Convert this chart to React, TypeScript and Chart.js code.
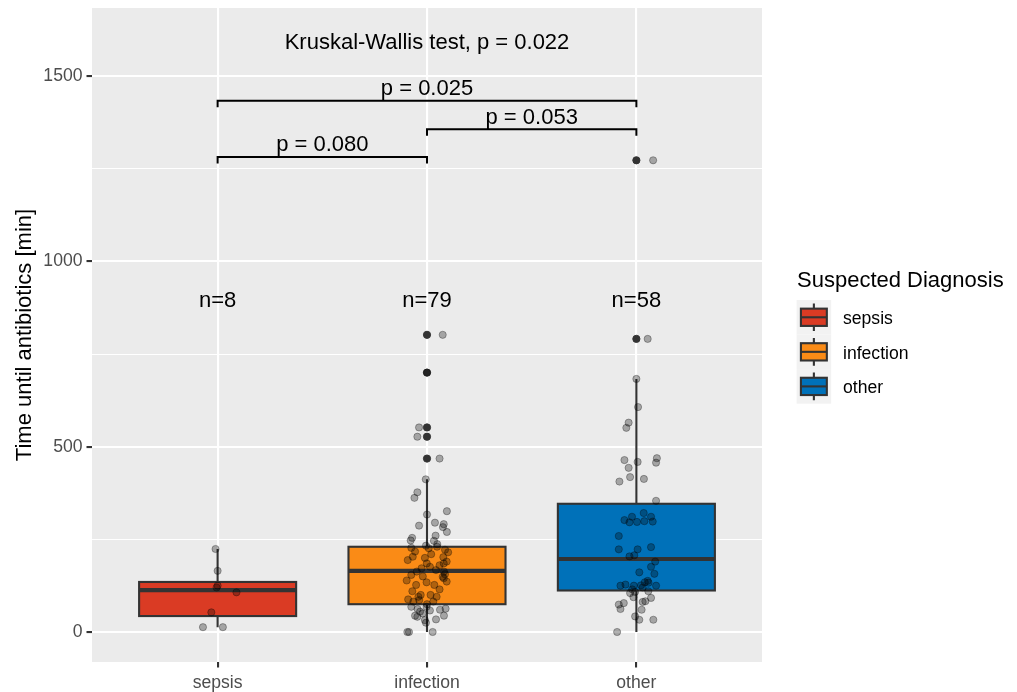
import { useEffect, useRef } from "react";
import { Chart, registerables } from "chart.js";

Chart.register(...registerables);

// ---------------- data ----------------
const categories = ["sepsis", "infection", "other"];
const sampleSizes = [8, 79, 58];
const boxFill = ["#DA3B24", "#FA8B16", "#0071B9"];

// box statistics
const q1 = [43, 75, 112];
const medians = [113, 165, 197];
const q3 = [135, 230, 346];
const whiskerLow = [13, 0, 0];
const whiskerHigh = [224, 412, 683];

// outliers drawn by the boxplot (category index 1..3)
const outlierCategory = [2, 2, 2, 2, 2, 3, 3];
const outlierValues = [802, 700, 552, 527, 468, 1273, 791];

// jittered observations
const sepsisValues = [224, 165, 125, 120, 107, 53, 13, 13];
const sepsisJitter = [-0.01, 0.0, 0.0, -0.005, 0.09, -0.03, -0.07, 0.025];

const infectionValues = [
  802, 700, 552, 527, 468,
  412, 377, 362, 326, 317, 295, 291, 283, 287, 270, 260, 254, 247, 246, 237, 233,
  227, 217, 226, 230, 222, 215, 194, 203, 202, 190, 172, 176, 163, 167, 163, 154, 149, 136, 139, 127, 134, 127,
  95, 100, 100, 95, 88, 82, 86, 82, 185, 185, 145, 156,
  210, 200, 180, 150, 115, 110, 75,
  68, 63, 68, 62, 58, 60, 34, 44, 41, 44, 25, 50, 0, 0, 0, 32, 55,
];
const infectionJitter = [
  0.075, 0.0, -0.038, -0.046, 0.06,
  -0.006, -0.046, -0.06, 0.095, 0.0, 0.038, 0.08, 0.076, -0.038, 0.095, 0.041, -0.071, -0.078, 0.033, 0.049, -0.005,
  -0.075, -0.057, 0.008, 0.048, 0.086, 0.101, -0.092, -0.068, 0.078, 0.094, -0.026, 0.014, -0.049, 0.043, 0.081, -0.075, 0.075, 0.094, -0.097, -0.052, -0.002, 0.035,
  -0.041, -0.03, 0.017, 0.046, -0.09, -0.065, -0.037, 0.03, 0.08, -0.001, 0.08, 0.086,
  0.02, -0.01, 0.06, -0.02, 0.06, -0.07, 0.0,
  -0.002, 0.089, -0.075, -0.045, 0.014, 0.062, 0.043, 0.081, -0.046, -0.057, -0.005, -0.021, -0.086, 0.027, -0.094, -0.01, -0.033,
];

const otherValues = [
  1273, 791, 683, 607, 565, 551, 464, 459, 469, 457, 443, 418, 413, 406, 354,
  321, 311, 302, 296, 297, 299, 311, 298, 259, 223, 223, 229, 204, 207, 190, 176, 161, 157,
  138, 134, 125, 128, 125, 126, 125, 133, 105, 108, 94, 110, 92, 83, 81, 78, 74, 62, 60,
  42, 33, 33, 0, 120, 115,
];
const otherJitter = [
  0.08, 0.054, 0.0, 0.008, -0.037, -0.048, -0.057, 0.006, 0.098, 0.094, -0.037, -0.03, 0.036, -0.081, 0.094,
  0.035, -0.021, -0.057, -0.033, 0.003, 0.038, 0.07, 0.078, -0.084, -0.084, 0.006, 0.07, -0.033, -0.01, 0.09, 0.07, 0.014, 0.086,
  0.054, 0.04, -0.076, -0.052, -0.012, 0.022, 0.094, 0.058, -0.03, -0.006, -0.014, 0.057, 0.07, 0.043, 0.03, -0.06, -0.084, -0.076, 0.025,
  -0.006, 0.014, 0.081, -0.092, 0.03, -0.02,
];

const groupValues = [sepsisValues, infectionValues, otherValues];
const groupJitter = [sepsisJitter, infectionJitter, otherJitter];

// pairwise comparisons
const bracketFrom = [1, 2, 1];
const bracketTo = [2, 3, 3];
const bracketY = [1282, 1357, 1434];
const bracketLabels = ["p = 0.080", "p = 0.053", "p = 0.025"];
const globalTestLabel = "Kruskal-Wallis test, p = 0.022";
const globalTestY = 1591;
const countLabelY = 894;

const yTickValues = [0, 250, 500, 750, 1000, 1250, 1500];
const yMin = -81;
const yMax = 1684;

// ---------------- styles ----------------
const FONT = "'Liberation Sans', Arial, Helvetica, sans-serif";
const LINE = "#333333";
const LW = 2.1;

const ggPlugin = {
  id: "ggbox",
  beforeDraw(chart: any) {
    const { ctx, chartArea } = chart;
    ctx.save();
    ctx.fillStyle = "#EBEBEB";
    ctx.fillRect(chartArea.left, chartArea.top, chartArea.right - chartArea.left, chartArea.bottom - chartArea.top);
    ctx.restore();
  },
  beforeDatasetsDraw(chart: any) {
    const { ctx } = chart;
    const xs = chart.scales.x;
    const ys = chart.scales.y;
    ctx.save();
    categories.forEach((_, i) => {
      const c = i + 1;
      const cx = xs.getPixelForValue(c);
      const left = xs.getPixelForValue(c - 0.375);
      const right = xs.getPixelForValue(c + 0.375);
      const yq1 = ys.getPixelForValue(q1[i]);
      const yq3 = ys.getPixelForValue(q3[i]);
      const ymed = ys.getPixelForValue(medians[i]);
      const ylo = ys.getPixelForValue(whiskerLow[i]);
      const yhi = ys.getPixelForValue(whiskerHigh[i]);
      ctx.strokeStyle = LINE;
      ctx.lineWidth = LW;
      ctx.beginPath();
      ctx.moveTo(cx, yq3);
      ctx.lineTo(cx, yhi);
      ctx.moveTo(cx, yq1);
      ctx.lineTo(cx, ylo);
      ctx.stroke();
      ctx.fillStyle = boxFill[i];
      ctx.fillRect(left, yq3, right - left, yq1 - yq3);
      ctx.strokeRect(left, yq3, right - left, yq1 - yq3);
      ctx.lineWidth = 4.2;
      ctx.beginPath();
      ctx.moveTo(left, ymed);
      ctx.lineTo(right, ymed);
      ctx.stroke();
    });
    ctx.restore();
  },
  afterDatasetsDraw(chart: any) {
    const { ctx } = chart;
    const xs = chart.scales.x;
    const ys = chart.scales.y;
    ctx.save();
    ctx.strokeStyle = "#000000";
    ctx.fillStyle = "#000000";
    ctx.lineWidth = 2;
    ctx.font = `22px ${FONT}`;
    ctx.textAlign = "center";
    bracketY.forEach((v, i) => {
      const x1 = xs.getPixelForValue(bracketFrom[i]);
      const x2 = xs.getPixelForValue(bracketTo[i]);
      const y = ys.getPixelForValue(v);
      ctx.beginPath();
      ctx.moveTo(x1, y + 6.5);
      ctx.lineTo(x1, y);
      ctx.lineTo(x2, y);
      ctx.lineTo(x2, y + 6.5);
      ctx.stroke();
      ctx.textBaseline = "alphabetic";
      ctx.fillText(bracketLabels[i], (x1 + x2) / 2, y - 5.5);
    });
    ctx.textBaseline = "middle";
    ctx.fillText(globalTestLabel, xs.getPixelForValue(2), ys.getPixelForValue(globalTestY));
    sampleSizes.forEach((n, i) => {
      ctx.fillText(`n=${n}`, xs.getPixelForValue(i + 1), ys.getPixelForValue(countLabelY));
    });
    ctx.restore();
  },
  afterDraw(chart: any) {
    const { ctx } = chart;
    const ks = 34.56;
    const kx = 796.6;
    const ky = 300;
    ctx.save();
    ctx.fillStyle = "#000000";
    ctx.font = `22px ${FONT}`;
    ctx.textAlign = "left";
    ctx.textBaseline = "alphabetic";
    ctx.fillText("Suspected Diagnosis", 797, 287);
    categories.forEach((name, i) => {
      const y0 = ky + i * ks;
      ctx.fillStyle = "#F2F2F2";
      ctx.fillRect(kx, y0, ks, ks);
      const cx = kx + ks / 2;
      ctx.strokeStyle = LINE;
      ctx.lineWidth = LW;
      ctx.beginPath();
      ctx.moveTo(cx, y0 + 0.1 * ks);
      ctx.lineTo(cx, y0 + 0.25 * ks);
      ctx.moveTo(cx, y0 + 0.75 * ks);
      ctx.lineTo(cx, y0 + 0.9 * ks);
      ctx.stroke();
      ctx.fillStyle = boxFill[i];
      ctx.fillRect(kx + 0.125 * ks, y0 + 0.25 * ks, 0.75 * ks, 0.5 * ks);
      ctx.strokeRect(kx + 0.125 * ks, y0 + 0.25 * ks, 0.75 * ks, 0.5 * ks);
      ctx.beginPath();
      ctx.moveTo(kx + 0.125 * ks, y0 + 0.5 * ks);
      ctx.lineTo(kx + 0.875 * ks, y0 + 0.5 * ks);
      ctx.stroke();
      ctx.fillStyle = "#000000";
      ctx.font = `17.6px ${FONT}`;
      ctx.textBaseline = "middle";
      ctx.fillText(name, 843, y0 + ks / 2 + 2);
    });
    ctx.restore();
  },
};

export default function App() {
  const ref = useRef<HTMLCanvasElement | null>(null);
  useEffect(() => {
    if (!ref.current) return;
    Chart.defaults.font.family = FONT;
    const datasets: any[] = categories.map((c, i) => ({
      label: c,
      data: groupValues[i].map((v, k) => ({ x: i + 1 + groupJitter[i][k], y: v })),
      backgroundColor: "rgba(0,0,0,0.3)",
      borderColor: "rgba(0,0,0,0.3)",
      borderWidth: 1,
      pointRadius: 3.6,
    }));
    datasets.push({
      label: "outliers",
      data: outlierValues.map((v, k) => ({ x: outlierCategory[k], y: v })),
      backgroundColor: LINE,
      borderColor: LINE,
      borderWidth: 1,
      pointRadius: 3.6,
    });
    const chart = new Chart(ref.current, {
      type: "scatter",
      data: { datasets },
      options: {
        animation: false,
        responsive: true,
        maintainAspectRatio: false,
        layout: { padding: { left: 0, top: 8, right: 255, bottom: 0 } },
        plugins: { legend: { display: false }, tooltip: { enabled: false } },
        scales: {
          x: {
            type: "linear",
            min: 0.4,
            max: 3.6,
            afterBuildTicks: (s: any) => {
              s.ticks = categories.map((_, i) => ({ value: i + 1 }));
            },
            afterFit: (s: any) => {
              s.height = 30;
              s.paddingLeft = 0;
              s.paddingRight = 0;
              s.paddingTop = 0;
              s.paddingBottom = 0;
            },
            ticks: {
              autoSkip: false,
              maxRotation: 0,
              padding: 5,
              color: "#4D4D4D",
              font: { size: 17.6 },
              callback: (v: any) => categories[Math.round(Number(v)) - 1] ?? "",
            },
            grid: { color: "#FFFFFF", lineWidth: LW, tickColor: LINE, tickLength: 5.5, tickWidth: LW },
            border: { display: false },
          },
          y: {
            type: "linear",
            min: yMin,
            max: yMax,
            afterBuildTicks: (s: any) => {
              s.ticks = yTickValues.map((v) => ({ value: v }));
            },
            afterFit: (s: any) => {
              s.width = 92;
              s.paddingLeft = 0;
              s.paddingRight = 0;
              s.paddingTop = 0;
              s.paddingBottom = 0;
            },
            ticks: {
              autoSkip: false,
              padding: 4,
              color: "#4D4D4D",
              font: { size: 17.6 },
              callback: (v: any) => (Number(v) % 500 === 0 ? String(v) : ""),
            },
            grid: {
              color: "#FFFFFF",
              lineWidth: (c: any) => (c.tick && c.tick.value % 500 === 0 ? LW : 1.05),
              tickColor: (c: any) => (c.tick && c.tick.value % 500 === 0 ? LINE : "rgba(0,0,0,0)"),
              tickLength: 5.5,
              tickWidth: LW,
            },
            border: { display: false },
            title: {
              display: true,
              text: "Time until antibiotics [min]",
              color: "#000000",
              font: { size: 22 },
              padding: { top: 12, bottom: 0 },
            },
          },
        },
      },
      plugins: [ggPlugin],
    });
    return () => chart.destroy();
  }, []);
  return (
    <div style={{ position: "absolute", left: 0, top: 0, width: 1017, height: 692 }}>
      <canvas ref={ref} />
    </div>
  );
}
